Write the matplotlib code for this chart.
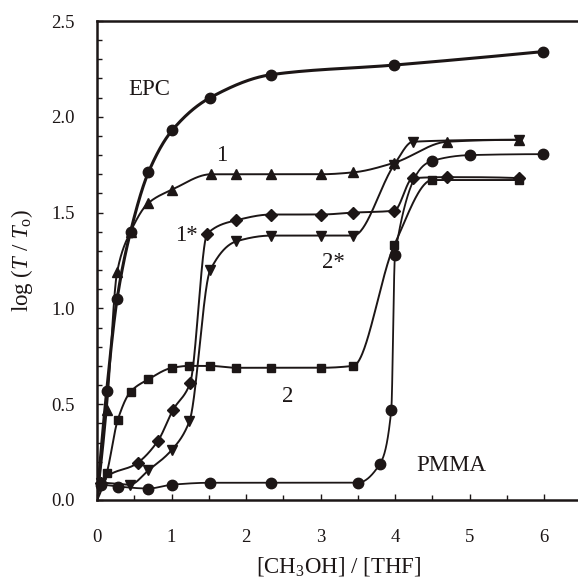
import numpy as np
import matplotlib
matplotlib.use('Agg')
import matplotlib.pyplot as plt
from matplotlib.ticker import MultipleLocator

plt.rcParams['font.family'] = ['Liberation Serif', 'DejaVu Serif']
plt.rcParams['mathtext.fontset'] = 'custom'
plt.rcParams['mathtext.rm'] = 'Liberation Serif'
plt.rcParams['mathtext.it'] = 'Liberation Serif:italic'

INK = '#1c1616'

# [CH3OH]/[THF] ratio and log(T/To); each line starts at the origin
epc_x = [0, 0.13, 0.27, 0.45, 0.69, 1.01, 1.52, 2.34, 3.99, 5.98]
epc_y = [0, 0.57, 1.05, 1.40, 1.71, 1.93, 2.10, 2.22, 2.27, 2.34]

s1_x = [0, 0.13, 0.27, 0.45, 0.69, 1.01, 1.53, 1.86, 2.34, 3.00, 3.44, 3.99, 4.70, 5.66]
s1_y = [0, 0.47, 1.19, 1.40, 1.55, 1.62, 1.70, 1.70, 1.70, 1.70, 1.71, 1.76, 1.87, 1.88]

s1star_x = [0, 0.05, 0.55, 0.82, 1.02, 1.25, 1.48, 1.87, 2.34, 3.00, 3.44, 3.99, 4.24, 4.70, 5.66]
s1star_y = [0, 0.09, 0.195, 0.31, 0.47, 0.61, 1.39, 1.46, 1.49, 1.49, 1.50, 1.51, 1.68, 1.685, 1.68]

s2star_x = [0, 0.05, 0.44, 0.69, 1.00, 1.24, 1.52, 1.87, 2.34, 3.00, 3.44, 3.99, 4.24, 5.66]
s2star_y = [0, 0.09, 0.08, 0.155, 0.26, 0.41, 1.20, 1.35, 1.38, 1.38, 1.38, 1.75, 1.87, 1.88]

s2_x = [0, 0.13, 0.28, 0.45, 0.69, 1.01, 1.24, 1.52, 1.86, 2.34, 3.00, 3.44, 3.99, 4.50, 5.66]
s2_y = [0, 0.14, 0.42, 0.565, 0.63, 0.69, 0.70, 0.70, 0.69, 0.69, 0.69, 0.70, 1.33, 1.67, 1.67]

pmma_x = [0, 0.05, 0.28, 0.69, 1.01, 1.52, 2.34, 3.50, 3.80, 3.95, 4.00, 4.50, 5.00, 5.98]
pmma_y = [0, 0.08, 0.07, 0.06, 0.08, 0.09, 0.09, 0.09, 0.19, 0.47, 1.28, 1.77, 1.80, 1.805]

labels = ['EPC', '1', '1*', '2*', '2', 'PMMA']
label_x = [0.70, 1.67, 1.20, 3.17, 2.56, 4.75]
label_y = [2.14, 1.80, 1.38, 1.24, 0.54, 0.18]


def end_slope(h0, h1, d0, d1):
    d = ((2 * h0 + h1) * d0 - h0 * d1) / (h0 + h1)
    if np.sign(d) != np.sign(d0):
        return 0.0
    if np.sign(d0) != np.sign(d1) and abs(d) > abs(3 * d0):
        return 3 * d0
    return d


def pchip(x, y, per_seg=60):
    x = np.asarray(x, float)
    y = np.asarray(y, float)
    h = np.diff(x)
    delta = np.diff(y) / h
    n = len(x)
    d = np.zeros(n)
    for k in range(1, n - 1):
        if delta[k - 1] * delta[k] > 0:
            w1 = 2 * h[k] + h[k - 1]
            w2 = h[k] + 2 * h[k - 1]
            d[k] = (w1 + w2) / (w1 / delta[k - 1] + w2 / delta[k])
    d[0] = end_slope(h[0], h[1], delta[0], delta[1])
    d[-1] = end_slope(h[-1], h[-2], delta[-1], delta[-2])

    xs, ys = [], []
    t = np.linspace(0, 1, per_seg)
    for k in range(n - 1):
        h00 = 2 * t**3 - 3 * t**2 + 1
        h10 = t**3 - 2 * t**2 + t
        h01 = -2 * t**3 + 3 * t**2
        h11 = t**3 - t**2
        xs.append(x[k] + t * h[k])
        ys.append(h00 * y[k] + h10 * h[k] * d[k] + h01 * y[k + 1] + h11 * h[k] * d[k + 1])
    return np.concatenate(xs), np.concatenate(ys)


fig = plt.figure(figsize=(5.78, 5.80), dpi=100)
ax = fig.add_axes([97 / 578, 80 / 580, 6.5 * 74.5 / 578, 479 / 580])

series = [
    (epc_x, epc_y, 'o', 7.5, 2.2),
    (s1_x, s1_y, '^', 7.5, 1.4),
    (s1star_x, s1star_y, 'D', 6.2, 1.4),
    (s2star_x, s2star_y, 'v', 7.5, 1.4),
    (s2_x, s2_y, 's', 6, 1.4),
    (pmma_x, pmma_y, 'o', 7.5, 1.3),
]

for xs, ys, marker, ms, lw in series:
    cx, cy = pchip(xs, ys)
    ax.plot(cx, cy, color=INK, lw=lw, solid_capstyle='round', zorder=2)
    ax.plot(xs[1:], ys[1:], linestyle='none', marker=marker, ms=ms,
            color=INK, zorder=3, clip_on=False)

for text, tx, ty in zip(labels, label_x, label_y):
    ax.text(tx, ty, text, fontsize=16.5, color=INK, ha='center', va='center')

ax.set_xlim(0, 6.5)
ax.set_ylim(0, 2.5)
ax.xaxis.set_major_locator(MultipleLocator(1))
ax.xaxis.set_minor_locator(MultipleLocator(0.5))
ax.yaxis.set_major_locator(MultipleLocator(0.5))
ax.yaxis.set_minor_locator(MultipleLocator(0.1))
ax.yaxis.set_major_formatter(matplotlib.ticker.FormatStrFormatter('%.1f'))

ax.tick_params(which='both', direction='in', top=False, right=False,
               width=1.0, color=INK, labelcolor=INK, labelsize=13.5)
ax.tick_params(axis='x', which='both', pad=21)
ax.tick_params(axis='y', which='both', pad=16)
ax.tick_params(which='major', length=4)
ax.tick_params(which='minor', length=3.5)

for side in ['left', 'bottom', 'top']:
    ax.spines[side].set_linewidth(1.8)
    ax.spines[side].set_color(INK)
ax.spines['right'].set_visible(False)

ax.set_xlabel(r'[CH$_3$OH] / [THF]', fontsize=16.5, color=INK, labelpad=6)
ax.set_ylabel(r'log ($T$ / $T_{\rm o}$)', fontsize=16.5, color=INK, labelpad=12)

fig.savefig('out.png', dpi=100)
